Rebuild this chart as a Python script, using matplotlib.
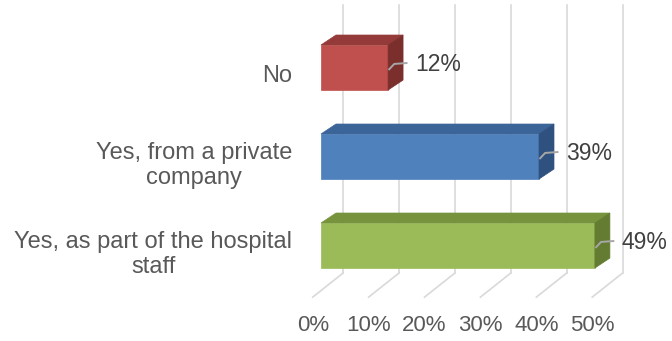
import matplotlib
matplotlib.use("Agg")
import matplotlib.pyplot as plt
from matplotlib.patches import Polygon

plt.rcParams['font.family'] = ['Liberation Sans', 'DejaVu Sans']

categories = ["Yes, as part of the hospital\nstaff",
              "Yes, from a private\ncompany",
              "No"]
values = [49, 39, 12]
tick_values = [0, 10, 20, 30, 40, 50]
tick_labels = ["0%", "10%", "20%", "30%", "40%", "50%"]

# front, top, side shades per bar
front_cols = ["#9BBB59", "#4F81BD", "#C0504D"]
top_cols = ["#77933C", "#3B6499", "#943B39"]
side_cols = ["#637C31", "#2F5180", "#7B2F2D"]

fig = plt.figure(figsize=(6.72, 3.41), dpi=100)
# axes box = front plane of the bars: x in percent, y in category index
ax = fig.add_axes([321 / 672, 51 / 341, 279.5 / 672, 267 / 341])
ax.set_xlim(0, 50)
ax.set_ylim(-0.5, 2.5)
ax.axis("off")

half = 0.253          # half bar thickness
ddx, ddy = 2.68, 0.112  # bar depth offset
wall_dx = 3.94        # back wall offset
floor_front_dx = -1.48
wall_top, wall_bot, floor_front = 2.70, -0.31, -0.58
grid_col = "#D9D9D9"

# back wall and floor gridlines
for t in tick_values:
    xb = t + wall_dx
    ax.plot([xb, xb], [wall_bot, wall_top], color=grid_col, lw=1.2,
            clip_on=False, zorder=1)
    ax.plot([xb, t + floor_front_dx], [wall_bot, floor_front], color=grid_col,
            lw=1.2, clip_on=False, zorder=1)

for t, lab in zip(tick_values, tick_labels):
    ax.text(t + floor_front_dx, -0.9, lab, ha="center", va="center",
            fontsize=16, color="#595959", clip_on=False)

for i, (cat, v) in enumerate(zip(categories, values)):
    y0, y1 = i - half, i + half
    front = Polygon([(0, y0), (v, y0), (v, y1), (0, y1)], closed=True,
                    facecolor=front_cols[i], edgecolor=front_cols[i], lw=0.5,
                    clip_on=False, zorder=3)
    top = Polygon([(0, y1), (v, y1), (v + ddx, y1 + ddy), (ddx, y1 + ddy)],
                  closed=True, facecolor=top_cols[i], edgecolor=top_cols[i],
                  lw=0.5, clip_on=False, zorder=3)
    side = Polygon([(v, y0), (v, y1), (v + ddx, y1 + ddy), (v + ddx, y0 + ddy)],
                   closed=True, facecolor=side_cols[i], edgecolor=side_cols[i],
                   lw=0.5, clip_on=False, zorder=3)
    for p in (front, top, side):
        ax.add_patch(p)

    # leader line and value label
    ax.plot([v + 0.2, v + 1.1, v + 3.3], [i - 0.02, i + 0.04, i + 0.05],
            color="#A6A6A6", lw=1.4, clip_on=False, zorder=4)
    ax.text(v + 4.8, i + 0.03, f"{v}%", ha="left", va="center",
            fontsize=16.5, color="#404040", clip_on=False, zorder=5)

    ax.text(-5.1, i - 0.1, cat, ha="right", va="center", multialignment="center",
            fontsize=17, color="#595959", linespacing=1.22, clip_on=False)

fig.savefig("out.png", dpi=100)
